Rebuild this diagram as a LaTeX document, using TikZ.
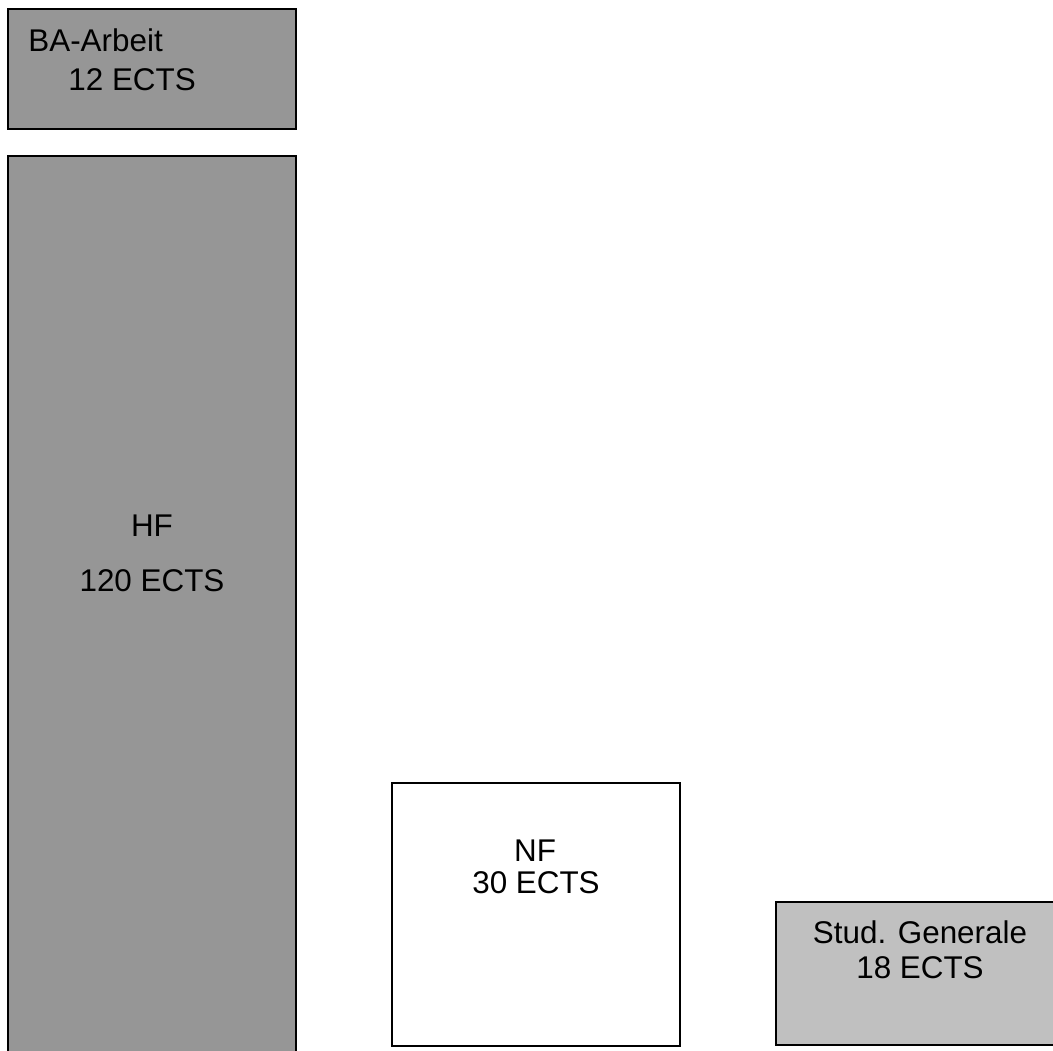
\documentclass[tikz,border=0pt]{standalone}
\usepackage{fontspec}
\setmainfont{Liberation Sans}
\usepackage{tikz}
\usetikzlibrary{positioning}
\definecolor{hfgray}{RGB}{150,150,150}
\definecolor{sggray}{RGB}{192,192,192}

\begin{document}
\begin{tikzpicture}[x=0.5pt,y=-0.5pt,
  box/.style={draw, line width=1pt, inner sep=0pt, outer sep=0pt},
  lbl/.style={inner sep=0pt, font=\fontsize{15.7}{18}\selectfont}]
\useasboundingbox (0,0) rectangle (1053,1050);
\clip (0,0) rectangle (1053,1050);
% boxes
\node (ba) [box, fill=hfgray, minimum width=144pt, minimum height=60pt] at (152,69) {};
\node (hf) [box, fill=hfgray, minimum width=144pt, minimum height=462pt] at (152,618) {};
\node (nf) [box, fill=white, minimum width=144pt, minimum height=131.5pt] at (536,914.5) {};
\node (sg) [box, fill=sggray, minimum width=144pt, minimum height=71.5pt] at (920,973.5) {};
% labels
\node (baname) [lbl, anchor=base west] at (28,51) {BA-Arbeit};
\node (baects) [lbl, anchor=base west] at (68,90) {12 ECTS};
\node (hfname) [lbl, anchor=base] at (152,536) {HF};
\node (hfects) [lbl, anchor=base] at (152,591) {120 ECTS};
\node (nfname) [lbl, anchor=base] at (535,861) {NF};
\node (nfects) [lbl, anchor=base] at (536,893) {30 ECTS};
\node (sgname) [lbl, anchor=base] at (920,943) {Stud. Generale};
\node (sgects) [lbl, anchor=base] at (920,978) {18 ECTS};
\end{tikzpicture}
\end{document}
